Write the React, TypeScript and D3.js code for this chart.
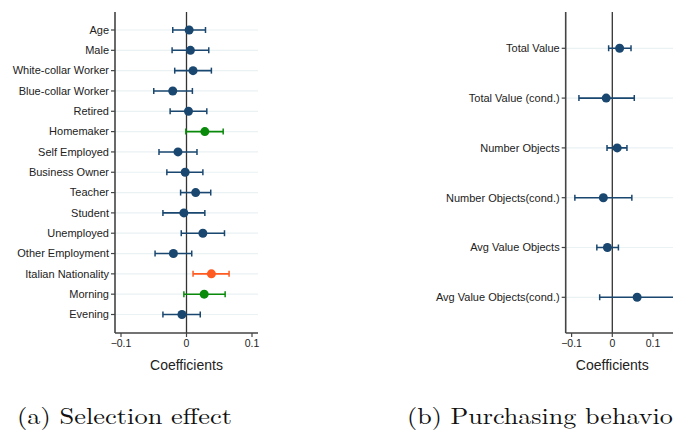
import React from "react";
import * as d3 from "d3";

const selLabels = ["Age","Male","White-collar Worker","Blue-collar Worker","Retired","Homemaker","Self Employed","Business Owner","Teacher","Student","Unemployed","Other Employment","Italian Nationality","Morning","Evening"];
const selCoef = [0.004,0.006,0.010,-0.021,0.003,0.028,-0.013,-0.002,0.014,-0.004,0.025,-0.020,0.038,0.027,-0.007];
const selLo = [-0.021,-0.022,-0.018,-0.050,-0.025,-0.001,-0.042,-0.030,-0.009,-0.036,-0.008,-0.048,0.010,-0.004,-0.036];
const selHi = [0.029,0.034,0.038,0.009,0.031,0.056,0.016,0.025,0.037,0.028,0.058,0.008,0.065,0.059,0.021];
const selGroup = ["n","n","n","n","n","g","n","n","n","n","n","n","o","g","n"];

const purLabels = ["Total Value","Total Value (cond.)","Number Objects","Number Objects(cond.)","Avg Value Objects","Avg Value Objects(cond.)"];
const purCoef = [0.018,-0.015,0.012,-0.022,-0.012,0.061];
const purLo = [-0.009,-0.082,-0.013,-0.092,-0.038,-0.031];
const purHi = [0.046,0.054,0.036,0.048,0.015,0.17];
const purGroup = ["n","n","n","n","n","n"];

const xTicks = [-0.1, 0, 0.1];
const colors: Record<string,string> = { n: "#1a476f", g: "#0a8a0a", o: "#ff5a1f" };

const FONT = "'Liberation Sans', Arial, Helvetica, sans-serif";
const SERIF = "'Latin Modern Roman','CMU Serif','Liberation Serif','DejaVu Serif',serif";

function Panel(props: {
  labels: string[]; coef: number[]; lo: number[]; hi: number[]; group: string[];
  axisX: number; x0: number; xRight: number; unit: number; yFirst: number; yLast: number;
}) {
  const { labels, coef, lo, hi, group, axisX, x0, xRight, unit, yFirst, yLast } = props;
  const top = 12, bottom = 333;
  const x = d3.scaleLinear().domain([0, 0.1]).range([x0, x0 + unit]);
  const y = d3.scalePoint<string>().domain(labels).range([yFirst, yLast]);
  return (
    <g>
      <defs>
        <clipPath id={"clip" + Math.round(axisX)}>
          <rect x={axisX} y={top} width={xRight - axisX} height={bottom - top} />
        </clipPath>
      </defs>
      {labels.map((l) => (
        <line key={"g" + l} x1={axisX} x2={xRight} y1={y(l)} y2={y(l)} stroke="#eaf2f3" strokeWidth={1.2} />
      ))}
      <line x1={x(0)} x2={x(0)} y1={top} y2={bottom} stroke="#333" strokeWidth={1.3} />
      <g clipPath={`url(#clip${Math.round(axisX)})`}>
        {labels.map((l, i) => {
          const c = colors[group[i]];
          const yy = y(l)!;
          return (
            <g key={"m" + l}>
              <line x1={x(lo[i])} x2={x(hi[i])} y1={yy} y2={yy} stroke={c} strokeWidth={1.6} />
              <line x1={x(lo[i])} x2={x(lo[i])} y1={yy - 3} y2={yy + 3} stroke={c} strokeWidth={1.5} />
              <line x1={x(hi[i])} x2={x(hi[i])} y1={yy - 3} y2={yy + 3} stroke={c} strokeWidth={1.5} />
              <circle cx={x(coef[i])} cy={yy} r={4.5} fill={c} />
            </g>
          );
        })}
      </g>
      <line x1={axisX} x2={axisX} y1={top} y2={bottom} stroke="#444" strokeWidth={1.6} />
      <line x1={axisX} x2={xRight} y1={bottom} y2={bottom} stroke="#444" strokeWidth={1.6} />
      {labels.map((l) => (
        <g key={"t" + l}>
          <line x1={axisX - 4} x2={axisX} y1={y(l)} y2={y(l)} stroke="#444" strokeWidth={1.2} />
          <text x={axisX - 6} y={y(l)} dy="0.35em" textAnchor="end" fontSize={11} fill="#222" fontFamily={FONT}>{l}</text>
        </g>
      ))}
      {xTicks.map((t) => (
        <g key={"x" + t}>
          <line x1={x(t)} x2={x(t)} y1={bottom} y2={bottom + 4} stroke="#444" strokeWidth={1.2} />
          <text x={x(t)} y={bottom + 14} textAnchor="middle" fontSize={10.5} fill="#222" fontFamily={FONT}>{t === 0 ? "0" : d3.format(".1f")(t)}</text>
        </g>
      ))}
      <text x={x(0)} y={370} textAnchor="middle" fontSize={14} fill="#222" fontFamily={FONT}>Coefficients</text>
    </g>
  );
}

export default function App() {
  return (
    <svg width={673} height={430} style={{ position: "absolute", left: 0, top: 0, background: "#fff" }}>
      <rect width={673} height={430} fill="#fff" />
      <Panel labels={selLabels} coef={selCoef} lo={selLo} hi={selHi} group={selGroup}
        axisX={115} x0={186.5} xRight={258} unit={65.5} yFirst={30} yLast={314.5} />
      <Panel labels={purLabels} coef={purCoef} lo={purLo} hi={purHi} group={purGroup}
        axisX={565.7} x0={612.3} xRight={700} unit={40.7} yFirst={48.3} yLast={297.3} />
      <text x={17} y={424} fontSize={23} fontFamily={SERIF} fill="#111" textLength={215} lengthAdjust="spacingAndGlyphs">(a) Selection effect</text>
      <text x={407} y={424} fontSize={23} fontFamily={SERIF} fill="#111" textLength={276} lengthAdjust="spacingAndGlyphs">(b) Purchasing behavior</text>
    </svg>
  );
}
